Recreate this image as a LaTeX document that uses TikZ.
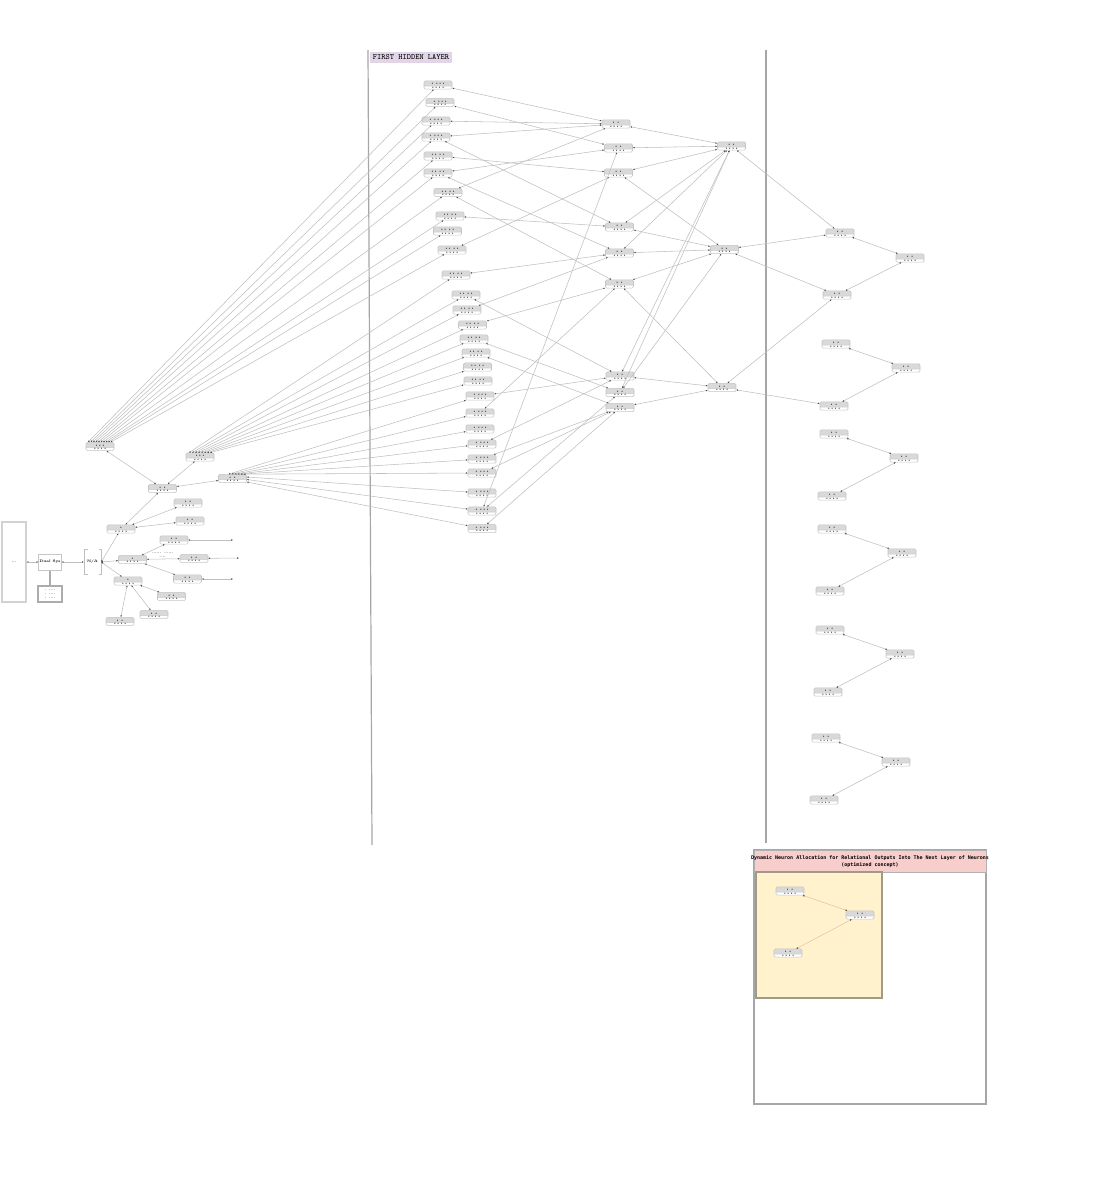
\documentclass[tikz,border=0pt]{standalone}
\usepackage{fontspec}
\newfontfamily\ttlfont{DejaVu Sans Mono}
\usetikzlibrary{arrows.meta,shapes.multipart}
\definecolor{lav}{HTML}{E1D5E7}
\definecolor{pinkt}{HTML}{F8CECC}
\definecolor{yel}{HTML}{FFF2CC}
\definecolor{yelb}{HTML}{A09A86}
\newcommand{\mydt}{\textbullet}
\newcommand{\dA}{\mydt\hspace{0.8pt}\mydt}
\newcommand{\dB}{\mydt\hspace{0.8pt}\mydt\kern-0.3pt\mydt\kern-0.3pt\mydt}
\newcommand{\dC}{\mydt\kern-0.3pt\mydt\hspace{0.8pt}\mydt\kern-0.3pt\mydt}
\newcommand{\dD}{\mydt\kern-0.3pt\mydt\kern-0.3pt\mydt\kern-0.3pt\mydt}
\newcommand{\dE}{\mydt\kern-0.3pt\mydt\kern-0.3pt\mydt}
\begin{document}
\begin{tikzpicture}[x=1pt,y=-1pt,
  tipA/.tip={Latex[length=1.8pt,width=1.6pt,color=gray!55!black]},
  conn/.style={draw=gray!50, line width=0.55pt, tipA-tipA},
  conny/.style={conn, draw=brown!45},
  nd/.style={rectangle split, rectangle split parts=2, draw=gray!45, line width=0.55pt,
    rounded corners=1.2pt, rectangle split part fill={gray!30,white},
    minimum width=28pt, inner xsep=1pt, inner ysep=0.5pt, text height=3pt, text depth=0.7pt,
    font=\fontsize{3.6}{3.6}\selectfont, text=black},
  tiny/.style={font=\fontsize{3.6}{4}\selectfont\bfseries, inner sep=0.5pt}
]
\useasboundingbox (0,0) rectangle (1100,1190);

% ---------- left part ----------
\node[draw=gray!35, line width=1.2pt, minimum width=24pt, minimum height=80pt, tiny] (src) at (14,562) {...};
\node[draw=gray!45, line width=1pt, minimum width=16pt, minimum height=16pt, tiny] (sys) at (50,562) {Dual Sys};
\node[draw=gray!65, line width=1.3pt, minimum width=24pt, minimum height=16pt, tiny, align=left] (notes) at (50,594) {. ....\\. ....\\. ....};
\draw[gray!65, line width=1.5pt] (sys) -- (notes);
\node[minimum width=17pt, minimum height=25pt, tiny] (br) at (92.5,562) {N/A};
\draw[gray!50, line width=0.6pt] ([xshift=4pt]br.north west) -- (br.north west) -- (br.south west) -- ([xshift=4pt]br.south west);
\draw[gray!50, line width=0.6pt] ([xshift=-2pt]br.north east) -- (br.north east) -- (br.south east) -- ([xshift=-2pt]br.south east);
\draw[conn] (src) -- (sys);
\draw[conn] (sys) -- (br);

\node[nd] (A) at (121,529) {\mydt\nodepart{two}\dD};
\node[nd] (B) at (132.5,559.5) {\mydt\nodepart{two}\dD};
\node[nd] (C) at (128,581) {\mydt\nodepart{two}\dD};
\node[nd] (B1) at (174,540) {\dA\nodepart{two}\dD};
\node[nd] (B2) at (194,558.5) {\dA\nodepart{two}\dD};
\node[nd] (B3) at (187.5,579) {\dA\nodepart{two}\dD};
\node[nd] (C1) at (120,621.5) {\dA\nodepart{two}\dD};
\node[nd] (C2) at (154,614.5) {\dA\nodepart{two}\dD};
\node[nd] (C3) at (171.5,596.5) {\dA\nodepart{two}\dD};
\node[nd] (A1) at (188,503) {\dA\nodepart{two}\dD};
\node[nd] (A2) at (190,521) {\dA\nodepart{two}\dD};
\node[nd] (H1) at (162.5,488.5) {\dA\nodepart{two}\dD};
\node[nd] (H0) at (100,446.5) {\dE\nodepart{two}\dD};
\node[nd] (H2) at (200,457) {\dE\nodepart{two}\dD};
\node[nd] (H3) at (232.5,478.5) {\dA\nodepart{two}\dD};
\coordinate (e1) at (233,540);
\coordinate (e2) at (239,558);
\coordinate (e3) at (233,579);

\draw[conn] (br.east) -- (A);
\draw[conn] (br.east) -- (B);
\draw[conn] (br.east) -- (C);
\draw[conn] (A) -- (H1);
\draw[conn] (A) -- (A1);
\draw[conn] (A) -- (A2);
\draw[conn] (B) -- (B1);
\draw[conn] (B) -- (B2) node[tiny, pos=0.48, above=1pt, align=center] {...... ......\\....};
\draw[conn] (B) -- (B3);
\draw[conn] (B1) -- (e1);
\draw[conn] (B2) -- (e2);
\draw[conn] (B3) -- (e3);
\draw[conn] (C) -- (C1);
\draw[conn] (C) -- (C2);
\draw[conn] (C) -- (C3);
\draw[conn] (H1) -- (H0);
\draw[conn] (H1) -- (H2);
\draw[conn] (H1) -- (H3);

% ---------- first hidden layer ----------
\draw[gray!70, line width=1.2pt] (368,50) -- (372,845);
\draw[gray!70, line width=1.2pt] (766,50) -- (766,843);
\node[fill=lav, minimum width=82pt, minimum height=11pt, inner sep=0pt, font=\fontsize{8}{8}\ttfamily] (fhl) at (411,57.5) {FIRST HIDDEN LAYER};

\node[nd] (c1) at (438,85) {\dB\nodepart{two}\dD};
\node[nd] (c2) at (440,102.5) {\dB\nodepart{two}\dD};
\node[nd] (c3) at (436,121) {\dB\nodepart{two}\dD};
\node[nd] (c4) at (436,137) {\dB\nodepart{two}\dD};
\node[nd] (c5) at (438,156) {\dC\nodepart{two}\dD};
\node[nd] (c6) at (438,173) {\dC\nodepart{two}\dD};
\node[nd] (c7) at (448,192.5) {\dC\nodepart{two}\dD};
\node[nd] (c8) at (450,216) {\dC\nodepart{two}\dD};
\node[nd] (c9) at (447.5,231) {\dC\nodepart{two}\dD};
\node[nd] (c10) at (452,250) {\dC\nodepart{two}\dD};
\node[nd] (c11) at (456,275) {\dC\nodepart{two}\dD};
\node[nd] (c12) at (466,295) {\dC\nodepart{two}\dD};
\node[nd] (c13) at (467,310) {\dC\nodepart{two}\dD};
\node[nd] (c14) at (472.5,325) {\dC\nodepart{two}\dD};
\node[nd] (c15) at (474,339) {\dC\nodepart{two}\dD};
\node[nd] (c16) at (476,353) {\dC\nodepart{two}\dD};
\node[nd] (c17) at (477.5,367) {\dC\nodepart{two}\dD};
\node[nd] (c18) at (478,381) {\dC\nodepart{two}\dD};
\node[nd] (c19) at (480,396) {\dB\nodepart{two}\dD};
\node[nd] (c20) at (480,413) {\dB\nodepart{two}\dD};
\node[nd] (c21) at (480,429) {\dB\nodepart{two}\dD};
\node[nd] (c22) at (482,444) {\dB\nodepart{two}\dD};
\node[nd] (c23) at (482,459) {\dB\nodepart{two}\dD};
\node[nd] (c24) at (482,473) {\dB\nodepart{two}\dD};
\node[nd] (c25) at (482,493) {\dB\nodepart{two}\dD};
\node[nd] (c26) at (482,511) {\dB\nodepart{two}\dD};
\node[nd] (c27) at (482,528.5) {\dB\nodepart{two}\dD};

\foreach \i/\o in {1/-12,2/-9.5,3/-7,4/-4.5,5/-2,6/0.5,7/3,8/5.5,9/8,10/10.5}
  {\draw[conn] (c\i) -- ([xshift=\o pt]H0.north);}
\foreach \i/\o in {11/-11,12/-8,13/-5,14/-2,15/1,16/4,17/7,18/10}
  {\draw[conn] (c\i) -- ([xshift=\o pt]H2.north);}
\foreach \i/\o in {19/-4,20/-1,21/2,22/5,23/8,24/11}
  {\draw[conn] (c\i) -- ([xshift=\o pt]H3.north);}
\foreach \i/\o in {25/-1.5,26/1,27/3.5}
  {\draw[conn] (c\i) -- ([yshift=-\o pt]H3.east);}

\node[nd] (m1) at (616,124) {\dA\nodepart{two}\dD};
\node[nd] (m2) at (618.5,148) {\dA\nodepart{two}\dD};
\node[nd] (m3) at (618.5,173) {\dA\nodepart{two}\dD};
\node[nd] (m4) at (619.5,227) {\dA\nodepart{two}\dD};
\node[nd] (m5) at (619.5,253) {\dA\nodepart{two}\dD};
\node[nd] (m6) at (619.5,284) {\dA\nodepart{two}\dD};
\node[nd] (m7) at (620,376) {\dA\nodepart{two}\dD};
\node[nd] (m8) at (620,392.5) {\dA\nodepart{two}\dD};
\node[nd] (m9) at (620,407.5) {\dA\nodepart{two}\dD};

\foreach \a/\b in {c1/m1,c2/m2,c3/m1,c4/m1,c4/m4,c5/m3,c6/m2,c6/m5,c7/m1,c7/m6,c8/m4,c10/m3,
  c11/m5,c12/m7,c13/m5,c14/m6,c15/m8,c16/m9,c19/m7,c20/m6,c22/m7,c23/m9,c24/m9,c26/m2,c26/m8,c27/m9}
  {\draw[conn] (\a) -- (\b);}

\node[nd] (n1) at (731.5,146) {\dA\nodepart{two}\dD};
\node[nd] (n2) at (724.5,249.5) {\dA\nodepart{two}\dD};
\node[nd] (n3) at (722,387.5) {\dA\nodepart{two}\dD};

\foreach \a/\b in {m1/n1,m2/n1,m3/n1,m3/n2,m4/n1,m4/n2,m5/n1,m5/n2,m6/n2,m6/n3,m7/n1,m7/n3,m8/n1,m8/n2,m9/n3}
  {\draw[conn] (\a) -- (\b);}

% ---------- right groups ----------
\node[nd] (r1a) at (840,233) {\dA\nodepart{two}\dD};
\node[nd] (r1b) at (910,258) {\dA\nodepart{two}\dD};
\node[nd] (r1c) at (837,295) {\dA\nodepart{two}\dD};
\node[nd] (r2a) at (836,344) {\dA\nodepart{two}\dD};
\node[nd] (r2b) at (906,368) {\dA\nodepart{two}\dD};
\node[nd] (r2c) at (834,406) {\dA\nodepart{two}\dD};
\node[nd] (r3a) at (834,434) {\dA\nodepart{two}\dD};
\node[nd] (r3b) at (904,458) {\dA\nodepart{two}\dD};
\node[nd] (r3c) at (832,496) {\dA\nodepart{two}\dD};
\node[nd] (r4a) at (832,529) {\dA\nodepart{two}\dD};
\node[nd] (r4b) at (902,553) {\dA\nodepart{two}\dD};
\node[nd] (r4c) at (830,591) {\dA\nodepart{two}\dD};
\node[nd] (r5a) at (830,630) {\dA\nodepart{two}\dD};
\node[nd] (r5b) at (900,654) {\dA\nodepart{two}\dD};
\node[nd] (r5c) at (828,692) {\dA\nodepart{two}\dD};
\node[nd] (r6a) at (826,738) {\dA\nodepart{two}\dD};
\node[nd] (r6b) at (896,762) {\dA\nodepart{two}\dD};
\node[nd] (r6c) at (824,800) {\dA\nodepart{two}\dD};
\foreach \g in {1,...,6} {\draw[conn] (r\g a) -- (r\g b); \draw[conn] (r\g c) -- (r\g b);}
\draw[conn] (n1) -- (r1a);
\draw[conn] (n2) -- (r1a);
\draw[conn] (n2) -- (r1c);
\draw[conn] (n3) -- (r1c);
\draw[conn] (n3) -- (r2c);

% ---------- legend box ----------
\draw[gray!70, line width=1.2pt] (754,850) rectangle (986,1104);
\node[fill=pinkt, draw=gray!60, line width=0.8pt, minimum width=232pt, minimum height=22pt, inner sep=0pt] (ttlbar) at (870,861) {};
\node[font=\fontsize{5}{6.5}\ttlfont\bfseries, align=center, inner sep=0pt] (ttl) at (870,861.5)
  {Dynamic Neuron Allocation for Relational Outputs Into The Next Layer of Neurons\\(optimized concept)};
\draw[yelb, fill=yel, line width=1.2pt] (756,872) rectangle (882,998);
\node[nd] (y1) at (790,891) {\dA\nodepart{two}\dD};
\node[nd] (y2) at (860,915) {\dA\nodepart{two}\dD};
\node[nd] (y3) at (788,953) {\dA\nodepart{two}\dD};
\draw[conny] (y1) -- (y2);
\draw[conny] (y3) -- (y2);
\end{tikzpicture}
\end{document}
